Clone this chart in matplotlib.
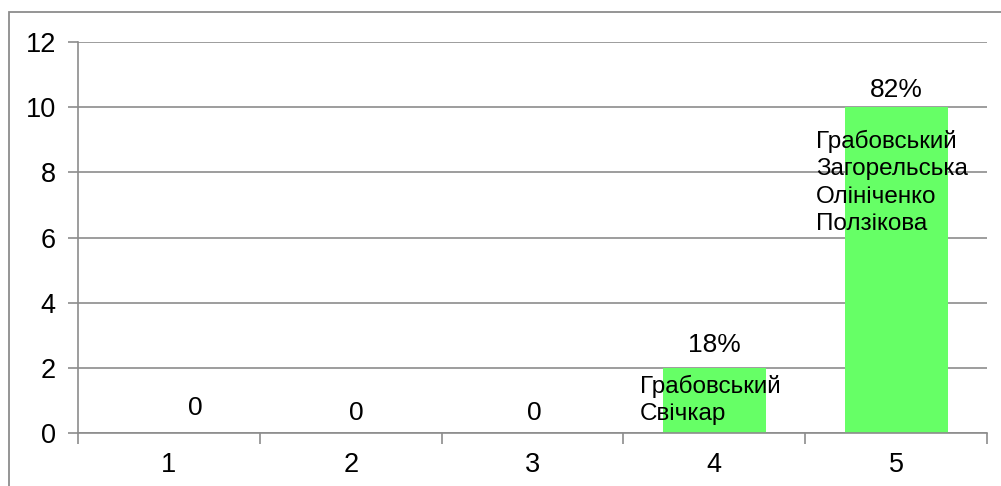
import matplotlib
matplotlib.use("Agg")
import matplotlib.pyplot as plt
from matplotlib.patches import Rectangle

categories = ["1", "2", "3", "4", "5"]
values = [0, 0, 0, 2, 10]
value_labels = ["0", "0", "0", "18%", "82%"]
names = ["", "", "", "Грабовський\nСвічкар",
         "Грабовський\nЗагорельська\nОлініченко\nПолзікова"]
y_ticks = [0, 2, 4, 6, 8, 10, 12]

plt.rcParams['font.family'] = ['Liberation Sans', 'DejaVu Sans']

W, H = 1001, 486
fig = plt.figure(figsize=(W / 100, H / 100), dpi=100)
fig.patch.set_facecolor('white')

# outer frame
fig.add_artist(Rectangle((9 / W, -0.1), 1.2, (H - 12) / H + 0.1,
                         transform=fig.transFigure, fill=False,
                         edgecolor='#8c8c8c', linewidth=1.3))

ax = fig.add_axes([78 / W, (H - 433) / H, (987 - 78) / W, (433 - 42) / H])
gray = '#8c8c8c'
x = list(range(len(categories)))
ax.bar(x, values, width=0.566, color='#66FF66', zorder=2)

ax.set_xlim(-0.5, len(categories) - 0.5)
ax.set_ylim(0, 12)
ax.set_yticks(y_ticks)
ax.set_yticklabels([str(v) for v in y_ticks], fontsize=19.5)
ax.set_xticks(x)
ax.set_xticklabels(categories, fontsize=19.5)
ax.set_xticks([i - 0.5 for i in range(len(categories) + 1)], minor=True)
ax.tick_params(axis='x', which='major', length=0, pad=14)
ax.tick_params(axis='x', which='minor', length=8, color=gray, width=1.2)
ax.tick_params(axis='y', length=7, color=gray, width=1.2, pad=9)
ax.grid(axis='y', color=gray, linewidth=1.2, zorder=1)
for s in ['top', 'right']:
    ax.spines[s].set_visible(False)
for s in ['left', 'bottom']:
    ax.spines[s].set_color(gray)
    ax.spines[s].set_linewidth(1.2)
    ax.spines[s].set_zorder(3)

px = 0.72  # points per pixel
zero_shift = [(26, 25), (6, 20), (2, 20)]
name_top_off = {3: 7, 4: 23}
val_off = {3: 23, 4: 17}
for i, (v, lab) in enumerate(zip(values, value_labels)):
    if v == 0:
        dx, dy = zero_shift[i]
        ax.annotate(lab, (i, v), xytext=(dx * px, dy * px), textcoords='offset points',
                    ha='center', va='center', fontsize=19, annotation_clip=False)
    else:
        ax.annotate(lab, (i, v), xytext=(0, val_off[i] * px), textcoords='offset points',
                    ha='center', va='center', fontsize=19)
        ax.annotate(names[i], (i, v), xytext=(-4 * px, -name_top_off[i] * px),
                    textcoords='offset points', ha='center', va='top',
                    multialignment='left', fontsize=17.5, linespacing=1.3, zorder=4)

fig.savefig('out.png', dpi=100)
